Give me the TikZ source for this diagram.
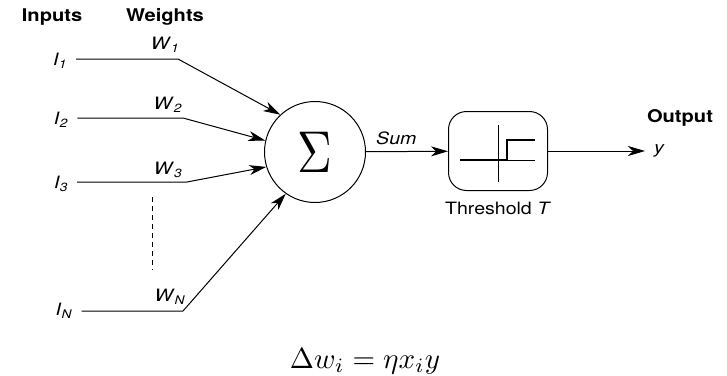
\documentclass[tikz,border=0pt]{standalone}
\usepackage{amsmath, amssymb}
\usepackage{fontspec}
\setsansfont{TeX Gyre Heros}[FakeStretch=1.15]
\usepackage{tikz}
\usetikzlibrary{arrows.meta, positioning}

\begin{document}
\begin{tikzpicture}[x=1pt, y=-1pt,
    lbl/.style={font=\sffamily\fontsize{17}{20}\selectfont, inner sep=0pt},
    hdr/.style={font=\sffamily\bfseries\fontsize{17.5}{20}\selectfont, inner sep=0pt},
    inp/.style={lbl, inner xsep=9pt, inner ysep=0pt},
    wire/.style={line width=1pt},
    arr/.style={line width=1pt, -{Stealth[length=17pt, width=10pt, inset=5pt]}}]
  \useasboundingbox (0,0) rectangle (727,375);

  % headers
  \node[hdr] (inputs) at (52,17) {Inputs};
  \node[hdr] (weights) at (165,17) {Weights};
  \node[hdr] (output) at (680,118) {Output};

  % summation and threshold units
  \node[circle, draw, line width=1pt, minimum size=101pt, inner sep=0pt] (sum) at (315,152)
    {\scalebox{4.8}[5.9]{$\Sigma$}};
  \node[draw, rounded corners=18pt, minimum width=99pt, minimum height=79pt,
        line width=1pt] (thr) at (498,151) {};
  \node[lbl, below=11pt of thr] (thrlbl) {Threshold \textit{T}};

  % step symbol
  \draw[line width=0.8pt] (460,160) -- (535,160);
  \draw[line width=0.8pt] (498,125) -- (498,182);
  \draw[line width=2pt] (460,160) -- (507,160) -- (507,140) -- (535,140);

  % inputs
  \node[inp] (i1) at (60,61) {\textit{I}\textsubscript{\textit{1}}};
  \node[inp] (i2) at (61,120) {\textit{I}\textsubscript{\textit{2}}};
  \node[inp] (i3) at (61,184) {\textit{I}\textsubscript{\textit{3}}};
  \node[inp] (iN) at (64,311) {\textit{I}\textsubscript{\textit{N}}};

  \coordinate (b1) at (178,59);
  \coordinate (b2) at (183,118);
  \coordinate (b3) at (187,182);
  \coordinate (bN) at (183,311);

  \node[lbl] (w1) at (165,45) {\textit{W}\textsubscript{\textit{1}}};
  \node[lbl] (w2) at (168,105) {\textit{W}\textsubscript{\textit{2}}};
  \node[lbl] (w3) at (168,170) {\textit{W}\textsubscript{\textit{3}}};
  \node[lbl] (wN) at (170,297) {\textit{W}\textsubscript{\textit{N}}};

  \draw[arr] (i1.east |- b1) -- (b1) -- (sum.133);
  \draw[arr] (i2.east |- b2) -- (b2) -- (sum.167);
  \draw[arr] (i3.east |- b3) -- (b3) -- (sum.197);
  \draw[arr] (iN.east |- bN) -- (bN) -- (sum.235);

  \draw[wire, dashed, dash pattern=on 5pt off 4pt] (152,197) -- (152,270);

  % sum to threshold to output
  \draw[arr] (sum) -- node[lbl, pos=0.37, above=6pt] (sumlbl) {\textit{Sum}} (thr);
  \node[lbl, anchor=west] (y) at (654,151) {\textit{y}};
  \draw[arr] (thr) -- ([xshift=-9pt]y.west);

  % learning rule
  \node[inner sep=0pt] (rule) at (365,361) {\scalebox{2.9}{$\Delta w_i = \eta x_i y$}};
\end{tikzpicture}
\end{document}
